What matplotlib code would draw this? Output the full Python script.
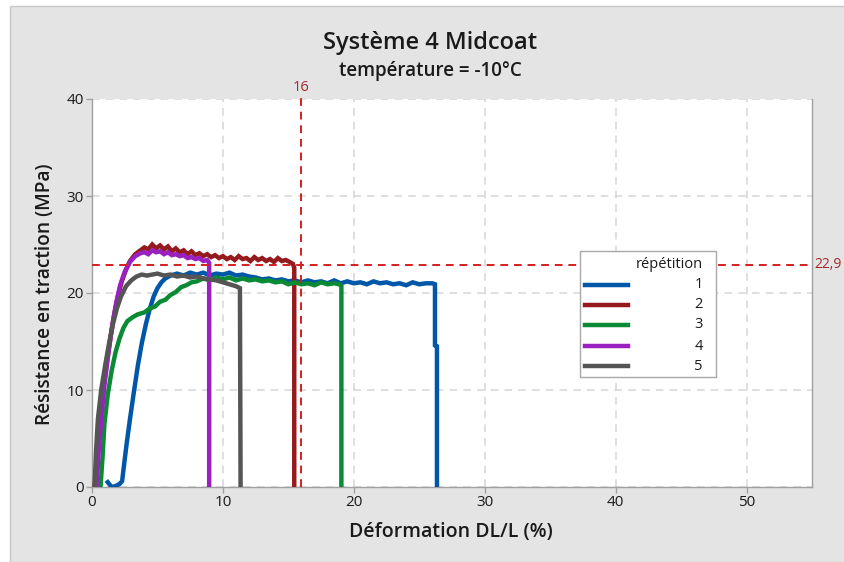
import matplotlib
matplotlib.use("Agg")
import matplotlib.pyplot as plt
from matplotlib.patches import Rectangle
from matplotlib.lines import Line2D

plt.rcParams['font.family'] = ['Open Sans', 'Noto Sans', 'DejaVu Sans']

# ---- data: strain (%) vs tensile stress (MPa), five repetitions ----
labels = ["1", "2", "3", "4", "5"]
colors = ["#0057a8", "#951a1d", "#0a8a34", "#9a20c0", "#555555"]

x1 = [1.2, 1.5, 1.8, 2.1, 2.3, 2.45, 2.65, 2.9, 3.2, 3.5,
      3.8, 4.1, 4.4, 4.7, 5.0, 5.3, 5.6, 6.0, 6.5, 7.0,
      7.5, 8.0, 8.5, 9.0, 9.5, 10.0, 10.5, 11.0, 11.5, 12.0,
      12.5, 13.0, 13.5, 14.0, 14.5, 15.0, 15.5, 16.0, 16.5, 17.0,
      17.5, 18.0, 18.5, 19.0, 19.5, 20.0, 20.5, 21.0, 21.5, 22.0,
      22.5, 23.0, 23.5, 24.0, 24.5, 25.0, 25.5, 26.0, 26.2, 26.2,
      26.35, 26.35]
y1 = [0.5, 0.0, 0.1, 0.3, 0.6, 2.3, 4.5, 7.0, 9.8, 12.5,
      14.8, 16.7, 18.3, 19.6, 20.5, 21.1, 21.5, 21.8, 22.0, 21.8,
      22.1, 21.9, 22.1, 21.8, 22.0, 21.9, 22.1, 21.8, 21.9, 21.7,
      21.6, 21.4, 21.5, 21.3, 21.4, 21.2, 21.3, 21.1, 21.3, 21.1,
      21.2, 21.0, 21.3, 21.0, 21.2, 21.0, 21.1, 20.9, 21.2, 21.0,
      21.1, 20.9, 21.0, 20.8, 21.1, 20.9, 21.0, 21.0, 20.9, 14.6,
      14.5, 0.0]

x2 = [0.2, 0.35, 0.55, 0.8, 1.1, 1.4, 1.7, 2.0, 2.3, 2.6, 2.9, 3.3, 3.7,
      4.0, 4.3, 4.6, 4.9, 5.2, 5.5, 5.8, 6.1, 6.4, 6.7,
      7.0, 7.3, 7.6, 7.9, 8.2, 8.5, 8.8, 9.1, 9.4, 9.7,
      10.0, 10.3, 10.6, 10.9, 11.2, 11.5, 11.8, 12.1, 12.4, 12.7,
      13.0, 13.3, 13.6, 13.9, 14.2, 14.5, 14.8, 15.1, 15.35, 15.45,
      15.45]
y2 = [0.0, 3.0, 6.5, 9.5, 12.5, 15.3, 17.8, 19.8, 21.3, 22.4, 23.3, 24.0, 24.4,
      24.7, 24.5, 25.0, 24.6, 24.9, 24.5, 24.8, 24.3, 24.6, 24.2,
      24.4, 24.0, 24.3, 23.9, 24.1, 23.8, 24.0, 23.7, 23.9, 23.6,
      23.8, 23.5, 23.7, 23.4, 23.8, 23.5, 23.6, 23.3, 23.7, 23.4,
      23.6, 23.3, 23.5, 23.2, 23.6, 23.3, 23.4, 23.2, 23.0, 22.6,
      0.0]

x3 = [0.65, 0.8, 0.95, 1.2, 1.5, 1.8, 2.1, 2.4, 2.7, 3.1, 3.5,
      4.0, 4.4, 4.8, 5.2, 5.6, 6.0, 6.4, 6.8, 7.2, 7.6,
      8.0, 8.5, 9.0, 9.5, 10.0, 10.5, 11.0, 11.5, 12.0, 12.5,
      13.0, 13.5, 14.0, 14.5, 15.0, 15.5, 16.0, 16.5, 17.0, 17.5,
      18.0, 18.5, 18.9, 19.05, 19.05]
y3 = [0.0, 3.0, 6.5, 9.5, 12.0, 13.9, 15.3, 16.4, 17.1, 17.5, 17.8,
      18.0, 18.4, 18.6, 19.1, 19.3, 19.8, 20.1, 20.6, 20.8, 21.1,
      21.2, 21.5, 21.3, 21.6, 21.4, 21.6, 21.3, 21.5, 21.3, 21.4,
      21.2, 21.3, 21.1, 21.2, 20.9, 21.1, 20.9, 21.0, 20.8, 21.1,
      20.9, 21.0, 20.9, 20.7, 0.0]

x4 = [0.35, 0.5, 0.7, 0.95, 1.25, 1.55, 1.85, 2.15, 2.5, 2.9, 3.3, 3.7,
      4.0, 4.3, 4.6, 4.9, 5.2, 5.5, 5.8, 6.1, 6.4, 6.7,
      7.0, 7.3, 7.6, 7.9, 8.2, 8.5, 8.8, 8.95, 8.95]
y4 = [0.0, 3.5, 7.0, 10.5, 13.8, 16.7, 19.0, 20.8, 22.2, 23.2, 23.8, 24.1,
      24.2, 24.0, 24.4, 24.2, 24.3, 24.0, 24.2, 23.9, 24.0, 23.8,
      23.9, 23.6, 23.7, 23.5, 23.6, 23.3, 23.4, 23.1, 0.0]

x5 = [0.2, 0.3, 0.45, 0.7, 1.0, 1.3, 1.6, 1.9, 2.2, 2.6, 3.0, 3.4, 3.8,
      4.2, 4.6, 5.0, 5.5, 6.0, 6.5, 7.0, 7.5, 8.0, 8.5,
      9.0, 9.5, 10.0, 10.5, 11.0, 11.3, 11.35]
y5 = [0.0, 3.5, 7.0, 10.0, 12.5, 14.8, 16.8, 18.4, 19.6, 20.7, 21.3, 21.7, 21.9,
      21.8, 21.9, 22.0, 21.8, 21.9, 21.7, 21.8, 21.6, 21.7, 21.5,
      21.4, 21.3, 21.1, 20.9, 20.7, 20.5, 0.0]

series_x = [x1, x2, x3, x4, x5]
series_y = [y1, y2, y3, y4, y5]

ref_strain = 16
ref_stress = 22.9
ref_stress_text = "22,9"

xticks = [0, 10, 20, 30, 40, 50]
yticks = [0, 10, 20, 30, 40]

W, H = 845, 562


def fx(px):
    return px / W


def fy(py):
    return 1 - py / H


fig = plt.figure(figsize=(W / 100, H / 100), dpi=100, facecolor="white")

# grey panel behind the chart
bg = Rectangle((fx(10), 0), 1 - fx(10), fy(6), transform=fig.transFigure,
               facecolor="#e4e4e4", edgecolor="#c8c8c8", lw=1, zorder=-10)
fig.patches.append(bg)

ax = fig.add_axes([fx(92), fy(487), fx(812) - fx(92), fy(99) - fy(487)])
ax.set_facecolor("white")
ax.set_xlim(0, 55)
ax.set_ylim(0, 40)
ax.set_xticks(xticks)
ax.set_yticks(yticks)
ax.grid(True, color="#d6d6d6", linestyle=(0, (5, 4)), linewidth=1.1)
ax.set_axisbelow(True)
for side in ["left", "bottom", "right"]:
    ax.spines[side].set_color("#a0a0a0")
    ax.spines[side].set_linewidth(1.0)
ax.spines["top"].set_visible(False)
ax.tick_params(axis="both", colors="#a0a0a0", length=4, width=1,
               labelcolor="#1a1a1a", labelsize=11, pad=2)

for xs, ys, c in zip(series_x, series_y, colors):
    ax.plot(xs, ys, color=c, lw=3.2, solid_joinstyle="miter", zorder=3)

# reference lines
ax.axvline(ref_strain, ymin=0, ymax=1.015, color="#d42020", lw=1.4,
           linestyle=(0, (4, 3)), clip_on=False, zorder=4)
ax.text(ref_strain, 41.2, str(ref_strain), color="#a3282a", fontsize=10.5,
        ha="center", va="center", clip_on=False)
ax.axhline(ref_stress, xmin=0, xmax=1.002, color="#d42020", lw=1.4,
           linestyle=(0, (4, 3)), clip_on=False, zorder=4)
ax.text(55.15, ref_stress, ref_stress_text, color="#a3282a", fontsize=10,
        ha="left", va="center", clip_on=False)

# legend box
tr = ax.transAxes
lx0, ly0 = (580 - 92) / 720, (487 - 377) / 388
ax.add_patch(Rectangle((lx0, ly0), (716 - 580) / 720, (377 - 251) / 388,
                       transform=tr, facecolor="white", edgecolor="#a8a8a8",
                       lw=1, zorder=6))
lab_x = (703 - 92) / 720
ax.text(lab_x, (487 - 264) / 388, "répétition", transform=tr, ha="right",
        va="center", fontsize=10.5, color="#1a1a1a", zorder=7)
entry_py = [285, 305, 325, 346, 366]
for py, c, lab in zip(entry_py, colors, labels):
    yy = (487 - py) / 388
    ax.add_line(Line2D([(585 - 92) / 720, (628 - 92) / 720], [yy, yy],
                       transform=tr, color=c, lw=3.2, zorder=7))
    ax.text(lab_x, yy, lab, transform=tr, ha="right", va="center",
            fontsize=10.5, color="#1a1a1a", zorder=7)

# titles and axis labels
fig.text(fx(430), fy(43), "Système 4 Midcoat", ha="center", va="center",
         fontsize=17, fontweight="semibold", color="#1a1a1a")
fig.text(fx(430), fy(71), "température = -10°C", ha="center", va="center",
         fontsize=13.5, fontweight="semibold", color="#1a1a1a")
fig.text(fx(45), fy(294), "Résistance en traction (MPa)", ha="center",
         va="center", rotation=90, fontsize=13.8, fontweight="semibold",
         color="#1a1a1a")
fig.text(fx(451), fy(532), "Déformation DL/L (%)", ha="center",
         va="center", fontsize=14, fontweight="semibold", color="#1a1a1a")

fig.savefig("out.png", dpi=100, facecolor="white")
